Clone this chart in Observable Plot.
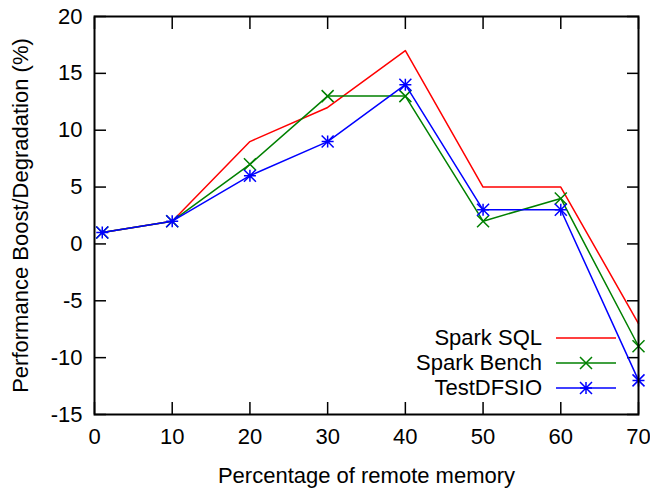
<!DOCTYPE html>
<html>
<head>
<meta charset="utf-8">
<script src="https://cdn.jsdelivr.net/npm/d3@7"></script>
<script src="https://cdn.jsdelivr.net/npm/@observablehq/plot@0.6"></script>
<style>
  html, body { margin: 0; padding: 0; background: #fff; }
  #chart { width: 650px; height: 489px; }
</style>
</head>
<body>
<div id="chart"></div>
<script>
const xValues = [1, 10, 20, 30, 40, 50, 60, 70];
const sparkSQL = [1, 2, 9, 12, 17, 5, 5, -7];
const sparkBench = [1, 2, 7, 13, 13, 2, 4, -9];
const testDFSIO = [1, 2, 6, 9, 14, 3, 3, -12];
const seriesNames = ["Spark SQL", "Spark Bench", "TestDFSIO"];
const seriesColors = ["#ff0000", "#008000", "#0000ff"];
const xTicks = [0, 10, 20, 30, 40, 50, 60, 70];
const yTicks = [-15, -10, -5, 0, 5, 10, 15, 20];
const xDomain = [0, 70];
const yDomain = [-15, 20];
const xTitle = "Percentage of remote memory";
const yTitle = "Performance Boost/Degradation (%)";

const seriesValues = [sparkSQL, sparkBench, testDFSIO];
const rows = [];
seriesNames.forEach((name, s) => {
  xValues.forEach((x, i) => rows.push({series: name, x, y: seriesValues[s][i]}));
});

// custom symbols
const crossSymbol = {
  draw(context, size) {
    const h = Math.sqrt(size / Math.PI);
    context.moveTo(-h, -h); context.lineTo(h, h);
    context.moveTo(-h, h); context.lineTo(h, -h);
  }
};
const starSymbol = {
  draw(context, size) {
    const h = Math.sqrt(size / Math.PI);
    context.moveTo(-h, -h); context.lineTo(h, h);
    context.moveTo(-h, h); context.lineTo(h, -h);
    context.moveTo(0, -h); context.lineTo(0, h);
    context.moveTo(-h, 0); context.lineTo(h, 0);
  }
};

const font = "'Liberation Sans', Arial, Helvetica, sans-serif";
const fs = 22;

const plot = Plot.plot({
  width: 650,
  height: 489,
  marginLeft: 94,
  marginRight: 12,
  marginTop: 16,
  marginBottom: 75,
  style: {fontFamily: font, fontSize: fs + "px", color: "#000", background: "#fff"},
  x: {domain: xDomain},
  y: {domain: yDomain},
  marks: [
    Plot.axisX({anchor: "bottom", ticks: xTicks, tickSize: -12, tickPadding: 26, strokeWidth: 1.5, fontSize: fs, label: null, tickFormat: d => String(d)}),
    Plot.axisX({anchor: "top", ticks: xTicks, tickSize: -12, strokeWidth: 1.5, label: null, tickFormat: () => ""}),
    Plot.axisY({anchor: "left", ticks: yTicks, tickSize: -12, tickPadding: 24, strokeWidth: 1.5, fontSize: fs, label: null, tickFormat: d => String(d)}),
    Plot.axisY({anchor: "right", ticks: yTicks, tickSize: -12, strokeWidth: 1.5, label: null, tickFormat: () => ""}),
    Plot.line(rows.filter(d => d.series === seriesNames[0]), {x: "x", y: "y", stroke: seriesColors[0], strokeWidth: 1.5}),
    Plot.line(rows.filter(d => d.series === seriesNames[1]), {x: "x", y: "y", stroke: seriesColors[1], strokeWidth: 1.5}),
    Plot.dot(rows.filter(d => d.series === seriesNames[1]), {x: "x", y: "y", r: 6, symbol: crossSymbol, fill: "none", stroke: seriesColors[1], strokeWidth: 1.5}),
    Plot.line(rows.filter(d => d.series === seriesNames[2]), {x: "x", y: "y", stroke: seriesColors[2], strokeWidth: 1.5}),
    Plot.dot(rows.filter(d => d.series === seriesNames[2]), {x: "x", y: "y", r: 6, symbol: starSymbol, fill: "none", stroke: seriesColors[2], strokeWidth: 1.5}),
    Plot.frame({stroke: "#000", strokeWidth: 2}),
    Plot.text([xTitle], {frameAnchor: "bottom", dy: 61.5, fontSize: fs, fill: "#000", lineAnchor: "middle", textAnchor: "middle"}),
    Plot.text([yTitle], {frameAnchor: "left", dx: -73.5, rotate: -90, fontSize: fs, fill: "#000", lineAnchor: "middle", textAnchor: "middle"})
  ]
});

document.getElementById("chart").appendChild(plot);

// legend (inside plot, bottom-right)
const svg = d3.select(plot);
const lg = svg.append("g").attr("font-family", font).attr("font-size", fs);
const legendSymbols = [null, crossSymbol, starSymbol];
const textRight = 542, lineX1 = 556, lineX2 = 616, rowY0 = 338, rowStep = 25;
seriesNames.forEach((name, i) => {
  const y = rowY0 + i * rowStep;
  lg.append("text").attr("x", textRight).attr("y", y).attr("dy", "0.32em")
    .attr("text-anchor", "end").attr("fill", "#000").text(name);
  lg.append("line").attr("x1", lineX1).attr("x2", lineX2).attr("y1", y).attr("y2", y)
    .attr("stroke", seriesColors[i]).attr("stroke-width", 1.5);
  if (legendSymbols[i]) {
    lg.append("path").attr("transform", `translate(${(lineX1 + lineX2) / 2},${y})`)
      .attr("d", d3.symbol(legendSymbols[i], Math.PI * 36)())
      .attr("fill", "none").attr("stroke", seriesColors[i]).attr("stroke-width", 1.5);
  }
});
</script>
</body>
</html>
